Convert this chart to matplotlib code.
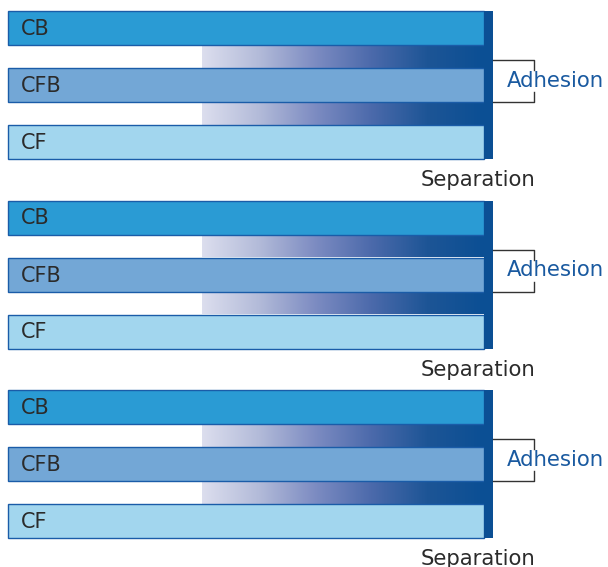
import matplotlib.pyplot as plt
import numpy as np
from matplotlib.colors import LinearSegmentedColormap
from matplotlib.patches import Rectangle

# layer names, top to bottom, and their fill colours
layers = ['CB', 'CFB', 'CF']
layer_colors = ['#2a9bd4', '#73a7d6', '#a2d6ee']
panels = 3
adhesion_label = 'Adhesion'
separation_label = 'Separation'

edge_color = '#1a5ca8'
stripe_color = '#0b4f94'
text_dark = '#2b2b2b'
text_blue = '#1a5aa0'

grad = LinearSegmentedColormap.from_list(
    'adh', ['#dcdeee', '#b3bbd9', '#7d8cc2', '#4c6aab', '#1d5596', '#0b4f94'])

fig = plt.figure(figsize=[6.08, 5.67], dpi=100, facecolor='white')
ax = fig.add_axes([0, 0, 1, 1])
ax.set_xlim(0, 608)
ax.set_ylim(567, 0)
ax.axis('off')

x0, x1 = 8, 484      # bar span
xg = 202             # gradient start
bar_h = 34
gap = 23
step = 189.5         # vertical offset between panels

ramp = np.linspace(0, 1, 256).reshape(1, -1)

for p in range(panels):
    top = 11 + p * step
    ys = [top + i * (bar_h + gap) for i in range(len(layers))]
    # gradient bands between bars
    for i in range(len(layers) - 1):
        g0 = ys[i] + bar_h
        ax.imshow(ramp, cmap=grad, aspect='auto', extent=[xg, x1, g0 + gap, g0],
                  interpolation='bilinear', zorder=1)
    # bars
    for y, name, c in zip(ys, layers, layer_colors):
        ax.add_patch(Rectangle((x0, y), x1 - x0, bar_h, facecolor=c,
                               edgecolor=edge_color, linewidth=1.0, zorder=2))
        ax.text(x0 + 13, y + bar_h / 2 + 1, name, fontsize=15, color=text_dark,
                va='center', ha='left', zorder=3)
    bottom = ys[-1] + bar_h
    # dark separation stripe on the right
    ax.add_patch(Rectangle((x1, top), 9, bottom - top, facecolor=stripe_color,
                           edgecolor='none', zorder=2))
    # adhesion bracket
    by0 = ys[1] - 8
    by1 = ys[1] + bar_h
    bx = 534
    ax.plot([x1 + 9, bx, bx], [by0, by0, by0 + 10], color='#333333', lw=1.0, zorder=3)
    ax.plot([x1 + 9, bx, bx], [by1, by1, by1 - 10], color='#333333', lw=1.0, zorder=3)
    ax.text(507, (by0 + by1) / 2, adhesion_label, fontsize=15.3, color=text_blue,
            va='center', ha='left', zorder=3)
    ax.text(478, bottom + 21, separation_label, fontsize=15.3, color=text_dark,
            va='center', ha='center', zorder=3)

plt.savefig('out.png', dpi=100, facecolor='white')
